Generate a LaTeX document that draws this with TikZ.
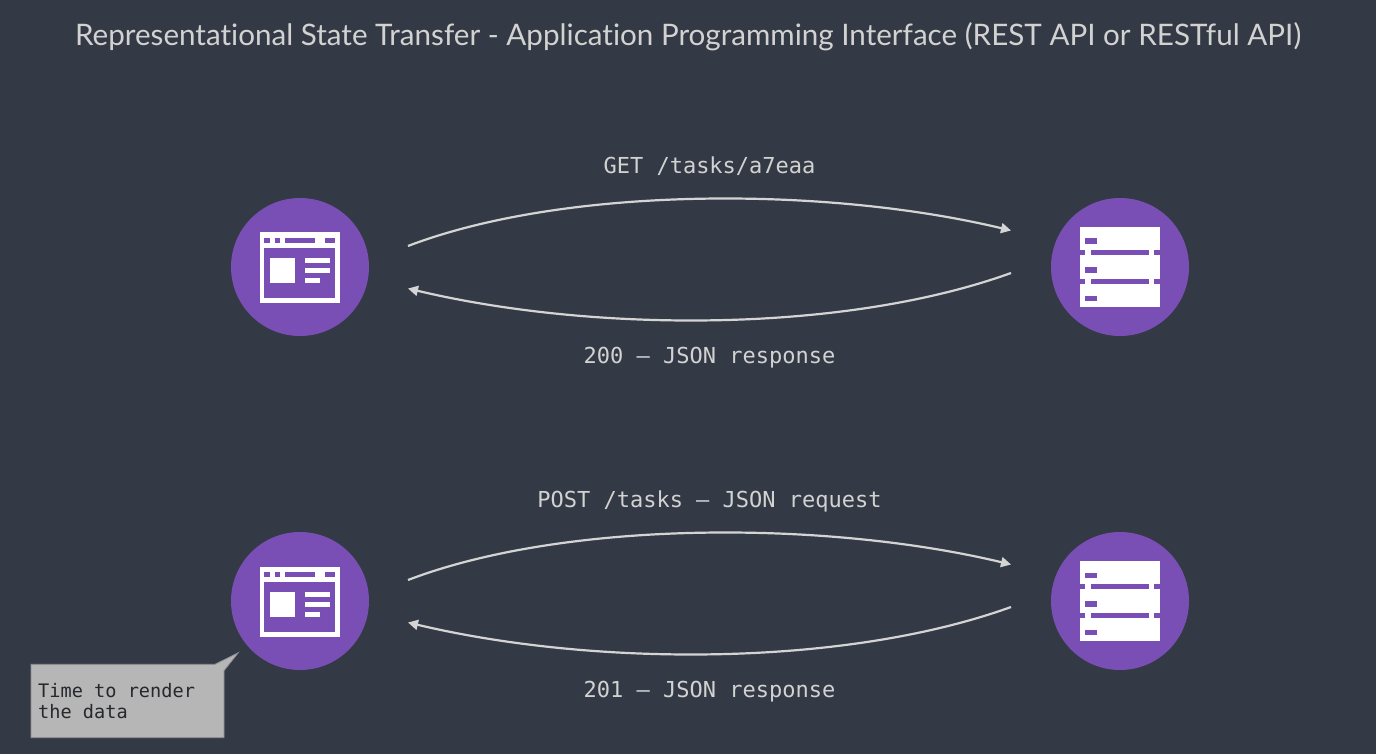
\documentclass[tikz,border=0pt]{standalone}
\usepackage{fontspec}
\setmainfont[Ligatures=NoCommon]{Lato}
\newfontfamily\monof{DejaVu Sans Mono}
\usetikzlibrary{arrows.meta}
\definecolor{bgc}{HTML}{343A45}
\definecolor{purp}{HTML}{7A4FB5}
\definecolor{txtc}{HTML}{D2D2D2}
\definecolor{linec}{HTML}{D4D4D4}
\definecolor{notec}{HTML}{B6B6B6}
\definecolor{noteb}{HTML}{8C8E92}
\definecolor{notet}{HTML}{26282C}
\tikzset{
  disc/.style={circle,fill=purp,minimum size=138pt,inner sep=0pt},
  flow/.style={draw=linec,line width=2.2pt,-{Triangle[length=10pt,width=10pt]}},
  monolabel/.style={text=txtc,anchor=base,font=\monof\fontsize{22}{26}\selectfont,inner sep=0pt},
  titlelabel/.style={text=txtc,anchor=base,font=\fontsize{29.6}{33}\selectfont,inner sep=0pt},
  notelabel/.style={text=notet,anchor=base west,align=left,inner sep=0pt,font=\monof\fontsize{18.6}{21}\selectfont},
  browsericon/.pic={
    \fill[white] (-40.5,-34.5) rectangle (40,36);
    \fill[purp] (-35.7,-19.3) rectangle (35,31.3);
    \fill[purp] (-35.7,-29.3) rectangle (-30.3,-24.3);
    \fill[purp] (-25.3,-29.3) rectangle (-20.3,-24.3);
    \fill[purp] (-15.3,-29.3) rectangle (15,-24.3);
    \fill[purp] (25,-29.3) rectangle (35,-24.3);
    \fill[white] (-30.3,-9.3) rectangle (-5.3,16);
    \fill[white] (5,-9.3) rectangle (30,-4);
    \fill[white] (5,1) rectangle (30,6);
    \fill[white] (5,11) rectangle (20,16);
  },
  servericon/.pic={
    \fill[white] (-40.5,-40.3) rectangle (40,40);
    \fill[purp] (-40.5,-17) rectangle (-35,-11.6);
    \fill[purp] (-29,-17) rectangle (28.7,-11.6);
    \fill[purp] (34,-17) rectangle (40,-11.6);
    \fill[purp] (-40.5,11.6) rectangle (-35,17);
    \fill[purp] (-29,11.6) rectangle (28.7,17);
    \fill[purp] (34,11.6) rectangle (40,17);
    \fill[purp] (-35,-28.5) rectangle (-23.3,-23);
    \fill[purp] (-35,0.3) rectangle (-23.3,5.7);
    \fill[purp] (-35,29) rectangle (-23.3,34.3);
  }
}
\begin{document}
\begin{tikzpicture}[x=1pt,y=-1pt]
\useasboundingbox (0,0) rectangle (1376,754);
\fill[bgc] (0,0) rectangle (1376,754);
\node[titlelabel] (title) at (688,46) {Representational State Transfer - Application Programming Interface (REST API or RESTful API)};

\node[disc] (client1) at (300,267) {};
\node[disc] (server1) at (1120,267) {};
\node[disc] (client2) at (300,601) {};
\node[disc] (server2) at (1120,601) {};
\pic at (client1.center) {browsericon};
\pic at (client2.center) {browsericon};
\pic at (server1.center) {servericon};
\pic at (server2.center) {servericon};

\coordinate (c1out) at (408,246);
\coordinate (s1in) at (1011,230.5);
\coordinate (s1out) at (1011,273);
\coordinate (c1in) at (408,288.5);
\coordinate (c2out) at (408,580);
\coordinate (s2in) at (1011,564.5);
\coordinate (s2out) at (1011,607);
\coordinate (c2in) at (408,622.5);

\draw[flow] (c1out) .. controls (565,186) and (825,186) .. (s1in);
\draw[flow] (s1out) .. controls (845,333) and (595,333) .. (c1in);
\draw[flow] (c2out) .. controls (565,520) and (825,520) .. (s2in);
\draw[flow] (s2out) .. controls (845,667) and (595,667) .. (c2in);

\node[monolabel] (get) at (709.5,173.5) {GET /tasks/a7eaa};
\node[monolabel] (r200) at (709.5,363.5) {200 – JSON response};
\node[monolabel] (post) at (709.5,507.5) {POST /tasks – JSON request};
\node[monolabel] (r201) at (709.5,697.5) {201 – JSON response};

\draw[fill=notec,draw=noteb,line width=0.8pt] (31,664.3) -- (215,664.3) -- (238.3,652.7) -- (224,670.7) -- (224,737.7) -- (31,737.7) -- cycle;
\node[notelabel] (note) at (38,718) {Time to render\\the data};
\end{tikzpicture}
\end{document}
